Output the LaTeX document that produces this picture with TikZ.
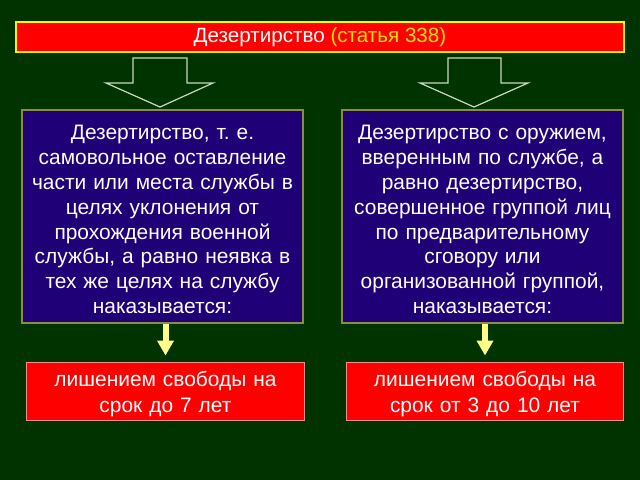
\documentclass[tikz,border=0pt]{standalone}
\usepackage{fontspec}
\setmainfont{Liberation Sans}
\usetikzlibrary{arrows.meta}
\frenchspacing
\definecolor{bg}{HTML}{003300}
\definecolor{bluebox}{HTML}{200077}
\definecolor{blueborder}{HTML}{8C8C48}
\definecolor{redborder}{HTML}{F09090}
\definecolor{titleyellow}{HTML}{FFE000}
\definecolor{arrowyellow}{HTML}{FFFF88}
\definecolor{hollowline}{HTML}{C8D8C0}
\begin{document}
\begin{tikzpicture}[x=1bp,y=-1bp,
  titlebox/.style={draw=yellow,line width=2bp,fill=red,minimum width=608bp,minimum height=30bp,
    text=white,font=\fontsize{20.7}{22}\selectfont,inner sep=0pt},
  bluenode/.style={draw=blueborder,line width=1.2bp,fill=bluebox,minimum width=281bp,minimum height=213bp,inner sep=0pt},
  bluetext/.style={text=white,text width=279bp,align=center,inner sep=0pt,font=\fontsize{21}{25}\selectfont},
  rednode/.style={draw=redborder,line width=1bp,fill=red,minimum width=277bp,minimum height=58bp,inner sep=0pt},
  redtext/.style={text=white,text width=275bp,align=center,inner sep=0pt,font=\fontsize{21}{26}\selectfont},
  hollow/.style={draw=hollowline,line width=1.2bp,line join=miter},
  yarrow/.style={draw=arrowyellow,line width=6bp,-{Triangle[width=16bp,length=15bp]},shorten >=6bp}
]
\useasboundingbox[fill=bg] (0,0) rectangle (640,480);

\node[titlebox] (title) at (320,37) {Дезертирство \textcolor{titleyellow}{(статья 338)}};

% hollow arrows
\draw[hollow] (133,58) -- (187,58) -- (187,83) -- (213,83) -- (160,107) -- (106,83) -- (133,83) -- cycle;
\draw[hollow] (448,58) -- (501,58) -- (501,83) -- (528,83) -- (474,107) -- (420,83) -- (448,83) -- cycle;

\node[bluenode] (b1) at (162.5,216.5) {};
\node[bluetext] (b1t) at ([yshift=-3bp]b1.center) {Дезертирство, т. е.\\самовольное оставление\\части или места службы в\\целях уклонения от\\прохождения военной\\службы, а равно неявка в\\тех же целях на службу\\наказывается:};
\node[bluenode] (b2) at (482.5,216.5) {};
\node[bluetext] (b2t) at ([yshift=-3bp]b2.center) {Дезертирство с оружием,\\вверенным по службе, а\\равно дезертирство,\\совершенное группой лиц\\по предварительному\\сговору или\\организованной группой,\\наказывается:};

\node[rednode] (r1) at (165.5,391) {};
\node[redtext] (r1t) at ([yshift=-3bp]r1.center) {лишением свободы на\\срок до 7 лет};
\node[rednode] (r2) at (485,391) {};
\node[redtext] (r2t) at ([yshift=-3bp]r2.center) {лишением свободы на\\срок от 3 до 10 лет};

\draw[yarrow] (b1.south -| r1.north) -- (r1.north);
\draw[yarrow] (b2.south -| r2.north) -- (r2.north);
\end{tikzpicture}
\end{document}
